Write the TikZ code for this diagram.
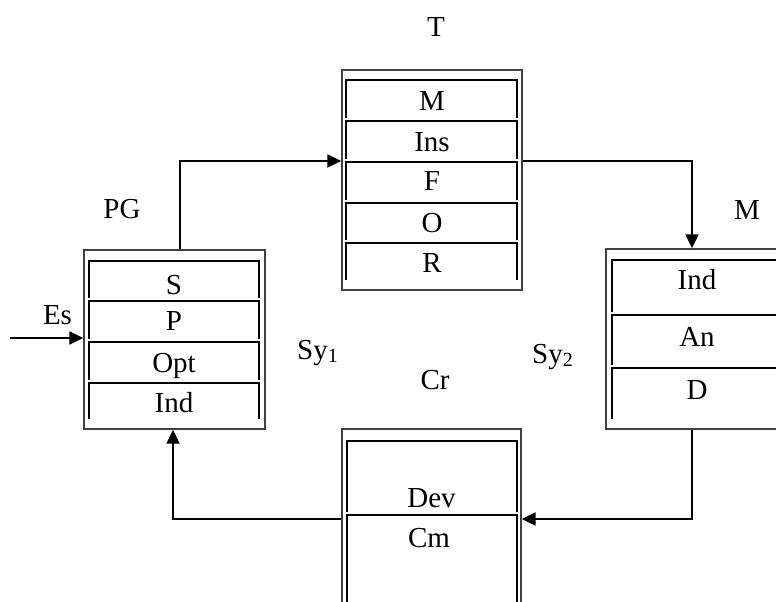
\documentclass[tikz,border=0pt]{standalone}
\usepackage{fontspec}
\setmainfont{Liberation Serif}
\usetikzlibrary{arrows.meta}

% one open-bottomed cell of a stacked list: left side, top edge, right side
\newcommand\cellframe[4]{\draw[rowline] (#1,#4) -- (#1,#3) -- (#2,#3) -- (#2,#4);}

\begin{document}
\begin{tikzpicture}[x=1pt,y=-1pt,
  every node/.style={font=\fontsize{29}{33}\selectfont, inner sep=0pt},
  outer/.style={draw=black!75, line width=1.4pt, minimum width=#1},
  rowline/.style={line width=2.7pt, black},
  lbl/.style={text height=19pt, text depth=0pt, anchor=center},
  arr/.style={line width=2.2pt, -{Triangle[length=14pt,width=13pt]}},
]
\useasboundingbox (0,0) rectangle (776,602);
\clip (0,0) rectangle (776,602);

% ---- outer frames ----
\node[outer=181, minimum height=179] (pg) at (174.5,339.5) {};
\node[outer=180, minimum height=220] (t)  at (432,180) {};
\node[outer=182, minimum height=180] (m)  at (697,339) {};
\node[outer=179, minimum height=211] (cr) at (431.5,534.5) {};

% ---- cells: PG ----
\cellframe{89}{259}{261}{298}
\cellframe{89}{259}{301}{339}
\cellframe{89}{259}{342}{380}
\cellframe{89}{259}{383}{419}
% ---- cells: T ----
\cellframe{346}{517}{80}{118}
\cellframe{346}{517}{121}{159}
\cellframe{346}{517}{162}{200}
\cellframe{346}{517}{203}{240}
\cellframe{346}{517}{243}{280}
% ---- cells: M ----
\cellframe{612}{782}{260}{312}
\cellframe{612}{782}{315}{365}
\cellframe{612}{782}{368}{419}
% ---- cells: Cr ----
\cellframe{347}{517}{441}{512}
\cellframe{347}{517}{515}{650}

% ---- cell texts ----
\node[lbl] (pgS)   at (174,285) {S};
\node[lbl] (pgP)   at (174,321) {P};
\node[lbl] (pgOpt) at (174,362.5) {Opt};
\node[lbl] (pgInd) at (174,402.5) {Ind};

\node[lbl] (tM)   at (432,101) {M};
\node[lbl] (tIns) at (432,141.5) {Ins};
\node[lbl] (tF)   at (432,181) {F};
\node[lbl] (tO)   at (432,222.5) {O};
\node[lbl] (tR)   at (432,263) {R};

\node[lbl] (mInd) at (697,280) {Ind};
\node[lbl] (mAn)  at (697,337) {An};
\node[lbl] (mD)   at (697,390) {D};

\node[lbl] (crDev) at (431.5,497.5) {Dev};
\node[lbl] (crCm)  at (429,538) {Cm};

% ---- titles and free labels ----
\node[lbl] (tT)  at (436,27) {T};
\node[lbl] (tPG) at (122,209) {PG};
\node[lbl] (tMM) at (747,210) {M};
\node[lbl] (tEs) at (57.5,315) {Es};
\node[lbl] (tCr) at (435,380) {Cr};
\node[lbl, anchor=west] (sy1) at (297,350) {Sy\raisebox{-0.22ex}{\fontsize{20}{21}\selectfont 1}};
\node[lbl, anchor=west] (sy2) at (532,354) {Sy\raisebox{-0.22ex}{\fontsize{20}{21}\selectfont 2}};

% ---- connectors ----
\coordinate (esIn) at (10,338);
\draw[arr] (esIn) -- (esIn -| pg.west);
\draw[arr] ([xshift=5.5pt]pg.north) |- ([yshift=19pt]t.west);
\draw[arr] ([yshift=19pt]t.east) -| ([xshift=-5pt]m.north);
\draw[arr] ([xshift=-5pt]m.south) |- ([yshift=15.5pt]cr.east);
\draw[arr] ([yshift=15.5pt]cr.west) -| ([xshift=-1.5pt]pg.south);
\end{tikzpicture}
\end{document}
